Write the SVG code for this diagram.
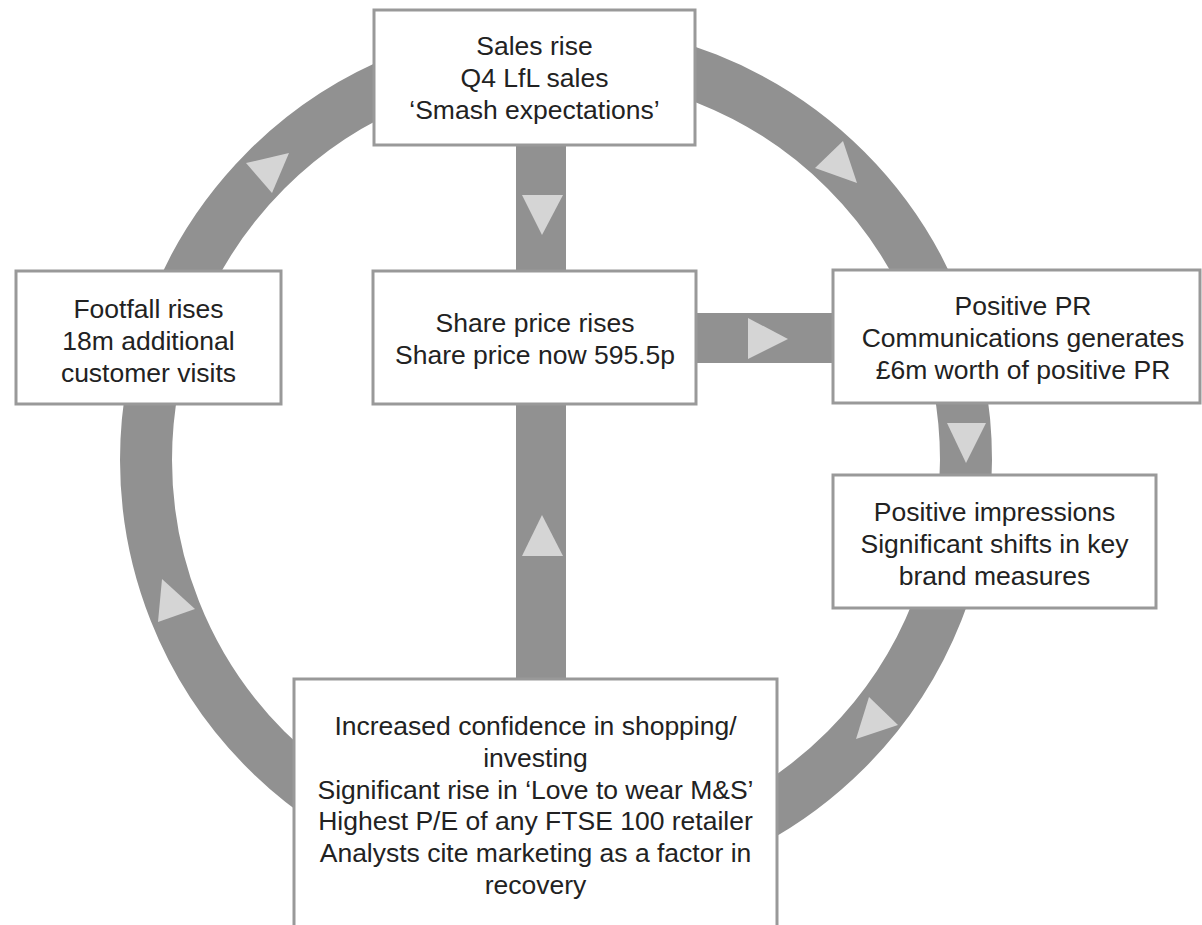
<svg xmlns="http://www.w3.org/2000/svg" width="1202" height="925" viewBox="0 0 1202 925">
<style>
.ring{fill:none;stroke:#919191;stroke-width:52}
.bar{fill:#919191}
.tri{fill:#d5d5d5}
.box{fill:#ffffff;stroke:#999999;stroke-width:3}
.t{font-family:"Liberation Sans",Arial,sans-serif;font-size:26.5px;fill:#222222;text-anchor:middle}
</style>
<rect width="1202" height="925" fill="#ffffff"/>
<g id="connectors">
<circle class="ring" cx="556" cy="460" r="410"/>
<rect class="bar" x="516" y="140" width="50" height="140"/>
<rect class="bar" x="516" y="400" width="50" height="285"/>
<rect class="bar" x="690" y="313" width="148" height="50"/>
<polygon class="tri" points="522,195 563,195 542,235"/>
<polygon class="tri" points="522,556 563,556 542,515"/>
<polygon class="tri" points="748,318 748,359 788,339"/>
<polygon class="tri" points="947,423 986,423 966,463"/>
<polygon class="tri" points="246,163 289,153 272,193"/>
<polygon class="tri" points="843,141 815,168 857,183"/>
<polygon class="tri" points="869,697 856,739 898,725"/>
<polygon class="tri" points="162,579 158,622 195,609"/>
</g>
<g id="sales">
<rect class="box" x="374" y="10" width="321" height="135"/>
<text class="t" x="534.5" y="55">Sales rise</text>
<text class="t" x="534.5" y="86.8">Q4 LfL sales</text>
<text class="t" x="534.5" y="118.6">‘Smash expectations’</text>
</g>
<g id="footfall">
<rect class="box" x="16" y="271" width="265" height="133"/>
<text class="t" x="148.5" y="318">Footfall rises</text>
<text class="t" x="148.5" y="349.8">18m additional</text>
<text class="t" x="148.5" y="381.6">customer visits</text>
</g>
<g id="share">
<rect class="box" x="373" y="271" width="323" height="133"/>
<text class="t" x="535" y="332">Share price rises</text>
<text class="t" x="535" y="363.8">Share price now 595.5p</text>
</g>
<g id="pr">
<rect class="box" x="833" y="270" width="367" height="133"/>
<text class="t" x="1023" y="315">Positive PR</text>
<text class="t" x="1023" y="346.8">Communications generates</text>
<text class="t" x="1023" y="378.6">£6m worth of positive PR</text>
</g>
<g id="impressions">
<rect class="box" x="833" y="475" width="323" height="133"/>
<text class="t" x="994.5" y="521">Positive impressions</text>
<text class="t" x="994.5" y="552.8">Significant shifts in key</text>
<text class="t" x="994.5" y="584.6">brand measures</text>
</g>
<g id="confidence">
<rect class="box" x="294" y="679" width="483" height="270"/>
<text class="t" x="535.5" y="735">Increased confidence in shopping/</text>
<text class="t" x="535.5" y="766.8">investing</text>
<text class="t" x="535.5" y="798.6">Significant rise in ‘Love to wear M&amp;S’</text>
<text class="t" x="535.5" y="830.4">Highest P/E of any FTSE 100 retailer</text>
<text class="t" x="535.5" y="862.2">Analysts cite marketing as a factor in</text>
<text class="t" x="535.5" y="894">recovery</text>
</g>
</svg>
